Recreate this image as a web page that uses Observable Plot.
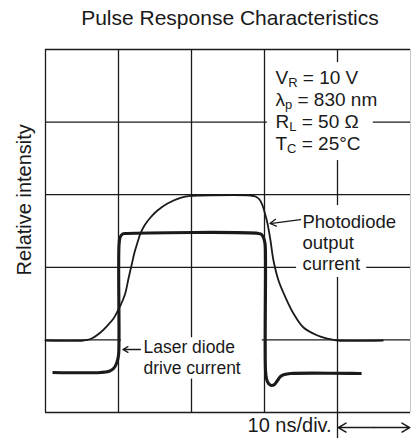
<!DOCTYPE html>
<html>
<head>
<meta charset="utf-8">
<script src="https://cdn.jsdelivr.net/npm/d3@7"></script>
<script src="https://cdn.jsdelivr.net/npm/@observablehq/plot@0.6"></script>
<style>
  html, body { margin: 0; padding: 0; background: #fff; }
</style>
</head>
<body>
<script>
// ---- data (time in ns, intensity in grid divisions) ----
const title = "Pulse Response Characteristics";
const yLabel = "Relative intensity";
const timeBase = "10 ns/div.";
const params = ["V_{R} = 10 V", "λ_{p} = 830 nm", "R_{L} = 50 Ω", "T_{C} = 25°C"];
const photoLabel = "Photodiode\noutput\ncurrent";
const laserLabel = "Laser diode\ndrive current";

const gridX = [0, 10, 20, 30, 40];
const gridY = [0, 1, 2, 3, 4, 5];

const laserT = [0.96, 7.53, 8.63, 9.32, 9.73, 10.0, 10.07, 10.07, 10.21, 10.55, 11.10, 29.18, 29.59, 29.86, 30.07, 30.14, 30.14, 30.27, 30.55, 30.96, 31.37, 31.78, 32.19, 32.74, 33.56, 43.3];
const laserI = [0.551, 0.551, 0.565, 0.606, 0.675, 0.785, 0.992, 2.300, 2.410, 2.459, 2.466, 2.466, 2.452, 2.410, 2.328, 2.094, 0.579, 0.468, 0.399, 0.372, 0.386, 0.441, 0.496, 0.523, 0.537, 0.537];

const photoT = [0, 5.21, 6.16, 7.53, 8.49, 9.32, 9.86, 10.27, 10.68, 10.96, 11.37, 11.78, 12.19, 12.60, 13.01, 13.56, 14.38, 15.34, 16.71, 18.49, 19.86, 21.23, 28.08, 28.77, 29.32, 29.73, 30.14, 30.41, 30.82, 31.23, 31.92, 32.88, 33.97, 35.34, 37.26, 38.63, 40.0, 46.2];
const photoI = [0.992, 0.992, 1.012, 1.102, 1.198, 1.295, 1.391, 1.474, 1.570, 1.653, 1.846, 2.025, 2.204, 2.342, 2.466, 2.576, 2.686, 2.782, 2.879, 2.955, 2.983, 2.989, 2.989, 2.975, 2.934, 2.851, 2.713, 2.603, 2.369, 2.094, 1.818, 1.584, 1.364, 1.171, 1.061, 1.019, 0.992, 0.992];

// ---- build tables ----
const laser = laserT.map((t, i) => ({t, v: laserI[i]}));
const photo = photoT.map((t, i) => ({t, v: photoI[i]}));
const paramRows = params.map((s, i) => ({s, i}));

const ink = "#1a1a1a";
const font = "'Liberation Sans', Arial, Helvetica, sans-serif";

const svg = Plot.plot({
  width: 411,
  height: 438,
  marginLeft: 45,
  marginRight: 1,
  marginTop: 49,
  marginBottom: 26,
  x: {domain: [0, 50], axis: null},
  y: {domain: [0, 5], axis: null},
  style: {fontFamily: font, background: "#fff", color: ink, overflow: "visible"},
  marks: [
    // grid
    Plot.ruleY(gridY, {x1: 0, x2: 50, stroke: ink, strokeWidth: 1.3}),
    Plot.ruleX(gridX.filter(d => d !== 40), {y1: 0, y2: 5, stroke: ink, strokeWidth: 1.3}),
    Plot.ruleX(gridX.filter(d => d === 40), {y1: -0.36, y2: 5, stroke: ink, strokeWidth: 1.3}),
    Plot.ruleX([50], {y1: 0, y2: 5, stroke: "#c8c8c8", strokeWidth: 1}),
    // white label backgrounds breaking the grid
    Plot.rect([{x1: 30.4, x2: 44.9, y1: 3.47, y2: 4.82}], {x1: "x1", x2: "x2", y1: "y1", y2: "y2", fill: "#fff"}),
    Plot.rect([{x1: 34.4, x2: 44.0, y1: 1.86, y2: 2.85}], {x1: "x1", x2: "x2", y1: "y1", y2: "y2", fill: "#fff"}),
    Plot.rect([{x1: 10.4, x2: 29.7, y1: 0.46, y2: 1.03}], {x1: "x1", x2: "x2", y1: "y1", y2: "y2", fill: "#fff"}),
    // curves
    Plot.line(photo, {x: "t", y: "v", stroke: ink, strokeWidth: 1.8, curve: "catmull-rom"}),
    Plot.line(laser, {x: "t", y: "v", stroke: ink, strokeWidth: 3.1, curve: "catmull-rom", strokeLinecap: "butt"}),
    // pointer arrows
    Plot.arrow([{x1: 34.93, y1: 2.658, x2: 30.75, y2: 2.603}], {x1: "x1", y1: "y1", x2: "x2", y2: "y2", stroke: ink, strokeWidth: 1.3, headLength: 8}),
    Plot.arrow([{x1: 13.0, y1: 0.868, x2: 10.6, y2: 0.868}], {x1: "x1", y1: "y1", x2: "x2", y2: "y2", stroke: ink, strokeWidth: 1.3, headLength: 8}),
    // time base double arrow
    Plot.arrow([{x1: 45, x2: 49.9}, {x1: 45, x2: 40.1}], {x1: "x1", x2: "x2", y1: () => -0.207, y2: () => -0.207, stroke: ink, strokeWidth: 1.5, headLength: 9}),
    // texts
    Plot.text([{x: 25.27, y: 5.344, s: title}], {x: "x", y: "y", text: "s", fontSize: 21, textAnchor: "middle", lineAnchor: "bottom", fill: ink}),
    Plot.text([{x: -1.95, y: 2.93, s: yLabel}], {x: "x", y: "y", text: "s", fontSize: 20, rotate: -90, textAnchor: "middle", lineAnchor: "bottom", fill: ink}),
    Plot.text([{x: 39.2, y: -0.275, s: timeBase}], {x: "x", y: "y", text: "s", fontSize: 20, textAnchor: "end", lineAnchor: "bottom", fill: ink}),
    Plot.text(paramRows, {x: () => 31.5, y: d => 4.518 - d.i * 0.303, text: "s", fontSize: 19, textAnchor: "start", lineAnchor: "bottom", fill: ink}),
    Plot.text([{x: 35.2, y: 1.956, s: photoLabel}], {x: "x", y: "y", text: "s", fontSize: 18.5, lineHeight: 1.16, textAnchor: "start", lineAnchor: "bottom", fill: ink}),
    Plot.text([{x: 13.42, y: 0.537, s: laserLabel}], {x: "x", y: "y", text: "s", fontSize: 17.5, lineHeight: 1.16, textAnchor: "start", lineAnchor: "bottom", fill: ink})
  ]
});

// convert _{...} markup into real subscript tspans
const NS = "http://www.w3.org/2000/svg";
svg.querySelectorAll("text").forEach(t => {
  const s = t.textContent;
  if (!s.includes("_{")) return;
  while (t.firstChild) t.removeChild(t.firstChild);
  const re = /_\{([^}]*)\}/g;
  let last = 0, m, shifted = false;
  const add = (str, sub) => {
    const ts = document.createElementNS(NS, "tspan");
    ts.textContent = str;
    if (sub) { ts.setAttribute("font-size", "13"); ts.setAttribute("dy", "3"); shifted = true; }
    else if (shifted) { ts.setAttribute("dy", "-3"); shifted = false; }
    t.appendChild(ts);
  };
  while ((m = re.exec(s))) {
    if (m.index > last) add(s.slice(last, m.index), false);
    add(m[1], true);
    last = re.lastIndex;
  }
  if (last < s.length) add(s.slice(last), false);
});

document.body.appendChild(svg);
</script>
</body>
</html>
